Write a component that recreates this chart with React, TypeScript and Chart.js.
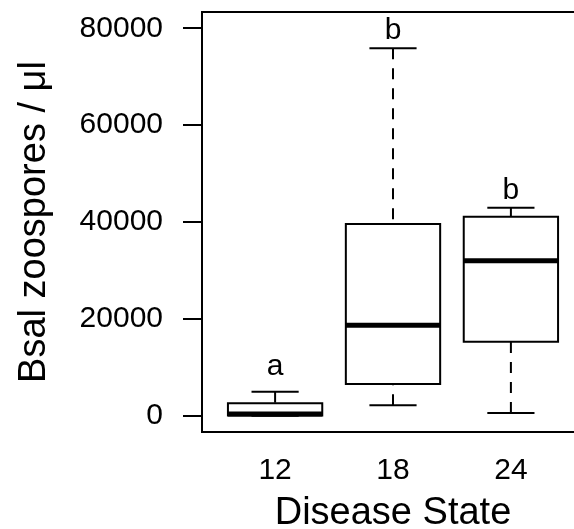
import React, { useEffect, useRef } from "react";
import { Chart, registerables } from "chart.js";

Chart.register(...registerables);

// ---- data ----
const categories = ["12", "18", "24"];
const whiskerLow = [0, 2150, 560];
const q1 = [40, 6550, 15280];
const median = [330, 18690, 31990];
const q3 = [2560, 39590, 41090];
const whiskerHigh = [4960, 75870, 42950];
const groupLetters = ["a", "b", "b"];
const letterY = [8400, 77730, 44690];
const yTicks = [0, 20000, 40000, 60000, 80000];
const yMin = -3366;
const yMax = 83366;
const xMin = 0.38;
const xMax = 3.62;

const FONT = "'Liberation Sans', Arial, Helvetica, sans-serif";
const BOX_HALF = 0.4;
const CAP_HALF = 0.2;

function buildDatasets() {
  const ds: any[] = [];
  const base = {
    type: "line",
    borderColor: "#000",
    backgroundColor: "transparent",
    pointRadius: 0,
    pointHoverRadius: 0,
    fill: false,
    tension: 0,
  };
  categories.forEach((_, i) => {
    const p = i + 1;
    ds.push({
      ...base,
      order: 0,
      borderWidth: 5,
      borderCapStyle: "butt",
      data: [
        { x: p - BOX_HALF, y: median[i] },
        { x: p + BOX_HALF, y: median[i] },
      ],
    });
    ds.push({
      ...base,
      order: 1,
      borderWidth: 2,
      borderCapStyle: "square",
      borderJoinStyle: "miter",
      data: [
        { x: p - BOX_HALF, y: q1[i] },
        { x: p + BOX_HALF, y: q1[i] },
        { x: p + BOX_HALF, y: q3[i] },
        { x: p - BOX_HALF, y: q3[i] },
        { x: p - BOX_HALF, y: q1[i] },
      ],
    });
    ds.push({
      ...base,
      order: 2,
      borderWidth: 2,
      borderDash: [11, 9],
      borderCapStyle: "butt",
      data: [
        { x: p, y: whiskerHigh[i] },
        { x: p, y: q3[i] },
      ],
    });
    ds.push({
      ...base,
      order: 2,
      borderWidth: 2,
      borderDash: [11, 9],
      borderCapStyle: "butt",
      data: [
        { x: p, y: whiskerLow[i] },
        { x: p, y: q1[i] },
      ],
    });
    ds.push({
      ...base,
      order: 2,
      borderWidth: 2,
      data: [
        { x: p - CAP_HALF, y: whiskerHigh[i] },
        { x: p + CAP_HALF, y: whiskerHigh[i] },
      ],
    });
    ds.push({
      ...base,
      order: 2,
      borderWidth: 2,
      data: [
        { x: p - CAP_HALF, y: whiskerLow[i] },
        { x: p + CAP_HALF, y: whiskerLow[i] },
      ],
    });
  });
  return ds;
}

const framePlugin = {
  id: "frame",
  afterDraw(chart: any) {
    const { ctx, chartArea } = chart;
    const { left, top, right, bottom } = chartArea;
    ctx.save();
    ctx.strokeStyle = "#000";
    ctx.lineWidth = 2;
    ctx.strokeRect(left, top, right - left, bottom - top);
    ctx.restore();
  },
};

const lettersPlugin = {
  id: "letters",
  afterDatasetsDraw(chart: any) {
    const { ctx, scales } = chart;
    const x = scales.x;
    const y = scales.y;
    ctx.save();
    ctx.font = `30px ${FONT}`;
    ctx.fillStyle = "#000";
    ctx.textAlign = "center";
    ctx.textBaseline = "alphabetic";
    groupLetters.forEach((t, i) => {
      ctx.fillText(t, x.getPixelForValue(i + 1), y.getPixelForValue(letterY[i]));
    });
    ctx.restore();
  },
};

export default function App() {
  const ref = useRef<HTMLCanvasElement | null>(null);

  useEffect(() => {
    if (!ref.current) return;
    const chart = new Chart(ref.current, {
      type: "line",
      data: { datasets: buildDatasets() },
      options: {
        animation: false,
        responsive: false,
        devicePixelRatio: 1,
        events: [],
        layout: { padding: { top: 12, right: 16, bottom: 0, left: 0 } },
        plugins: {
          legend: { display: false },
          tooltip: { enabled: false },
          title: { display: false },
        },
        scales: {
          x: {
            type: "linear",
            min: xMin,
            max: xMax,
            afterBuildTicks: (s: any) => {
              s.ticks = categories.map((_, i) => ({ value: i + 1 }));
            },
            afterFit: (s: any) => {
              s.height = 97;
              s.paddingLeft = 0;
              s.paddingRight = 0;
            },
            ticks: {
              autoSkip: false,
              maxRotation: 0,
              padding: 21,
              color: "#000",
              font: { family: FONT, size: 30 },
              callback: (_v: any, idx: number) => categories[idx],
            },
            grid: { display: false, drawTicks: false },
            border: { display: false },
            title: {
              display: true,
              text: "Disease State",
              color: "#000",
              font: { family: FONT, size: 38, lineHeight: 0.8 },
              padding: { top: 0, bottom: 0 },
            },
          },
          y: {
            type: "linear",
            min: yMin,
            max: yMax,
            afterBuildTicks: (s: any) => {
              s.ticks = yTicks.map((v) => ({ value: v }));
            },
            afterFit: (s: any) => {
              s.width = 202;
              s.paddingTop = 0;
              s.paddingBottom = 0;
            },
            ticks: {
              padding: 20,
              color: "#000",
              font: { family: FONT, size: 30 },
              callback: (v: any) => String(v),
            },
            grid: {
              drawOnChartArea: false,
              drawTicks: true,
              tickLength: 19,
              color: "#000",
              lineWidth: 2,
            },
            border: { display: false },
            title: {
              display: true,
              text: "Bsal zoospores / μl",
              color: "#000",
              font: { family: FONT, size: 38 },
              padding: { top: 12, bottom: 0 },
            },
          },
        },
      } as any,
      plugins: [framePlugin, lettersPlugin],
    } as any);
    return () => chart.destroy();
  }, []);

  return (
    <div
      style={{
        position: "fixed",
        left: 0,
        top: 0,
        width: 574,
        height: 529,
        overflow: "hidden",
        background: "#fff",
      }}
    >
      <canvas ref={ref} width={600} height={529} style={{ display: "block" }} />
    </div>
  );
}
